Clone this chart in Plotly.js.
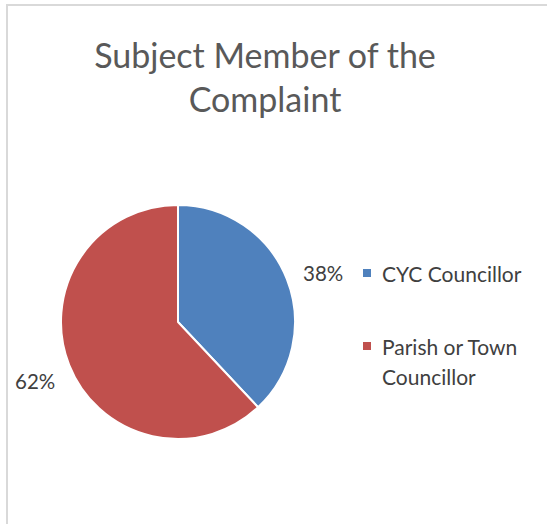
<!DOCTYPE html>
<html>
<head>
<meta charset="utf-8">
<script src="https://cdn.plot.ly/plotly-3.0.1.min.js"></script>
<style>html,body{margin:0;padding:0;background:#fff;}#chart{width:547px;height:524px;}</style>
</head>
<body>
<div id="chart"></div>
<script>
const chartTitle = "Subject Member of the<br>Complaint";
const categories = ["CYC Councillor", "Parish or Town Councillor"];
const legendLabels = ["CYC Councillor", "Parish or Town<br>Councillor"];
const values = [38, 62];
const colors = ["#4f81bd", "#c0504d"];

const W = 547, H = 524;
const FONT = "Lato, 'Open Sans', sans-serif";
const cx = 178, cy = 322, r = 117;

const trace = {
  type: "pie",
  labels: categories,
  values: values,
  sort: false,
  direction: "clockwise",
  rotation: 0,
  marker: {colors: colors, line: {color: "#ffffff", width: 2}},
  textinfo: "none",
  hoverinfo: "label+percent",
  showlegend: false,
  domain: {x: [(cx - r) / W, (cx + r) / W], y: [(H - cy - r) / H, (H - cy + r) / H]}
};

const total = values.reduce((a, b) => a + b, 0);
const labelPos = [[323, 273], [35, 381]];   // data label centres (px)
const annotations = [];
values.forEach((v, i) => {
  annotations.push({
    xref: "paper", yref: "paper", x: labelPos[i][0] / W, y: 1 - labelPos[i][1] / H,
    xanchor: "center", yanchor: "middle", showarrow: false,
    text: Math.round(v / total * 100) + "%",
    font: {family: FONT, size: 20.5, color: "#404040"}
  });
});

const shapes = [{
  type: "rect", xref: "paper", yref: "paper",
  x0: 7 / W, x1: 1.1, y0: -0.1, y1: 1 - 5 / H,
  line: {color: "#d9d9d9", width: 2}, fillcolor: "rgba(0,0,0,0)", layer: "below"
}];
const legendX = 380, legendY = [273, 346], lineGap = 30, markerX = 367;
legendLabels.forEach((lab, i) => {
  lab.split("<br>").forEach((line, k) => {
    annotations.push({
      xref: "paper", yref: "paper", x: legendX / W, y: 1 - (legendY[i] + k * lineGap) / H,
      xanchor: "left", yanchor: "middle", align: "left", showarrow: false,
      text: line, font: {family: FONT, size: 21, color: "#404040"}
    });
  });
  shapes.push({
    type: "rect", xref: "paper", yref: "paper",
    x0: (markerX - 4) / W, x1: (markerX + 4) / W,
    y0: 1 - (legendY[i] + 4) / H, y1: 1 - (legendY[i] - 4) / H,
    fillcolor: colors[i], line: {width: 0}
  });
});

const layout = {
  width: W, height: H,
  margin: {l: 0, r: 0, t: 0, b: 0},
  paper_bgcolor: "#ffffff",
  title: {text: chartTitle, font: {family: FONT, size: 34, color: "#595959"},
          x: 265 / W, xanchor: "center", y: 1 - 68 / H, yanchor: "top"},
  showlegend: false,
  annotations: annotations,
  shapes: shapes
};

Plotly.newPlot("chart", [trace], layout, {displayModeBar: false, staticPlot: true});
</script>
</body>
</html>
